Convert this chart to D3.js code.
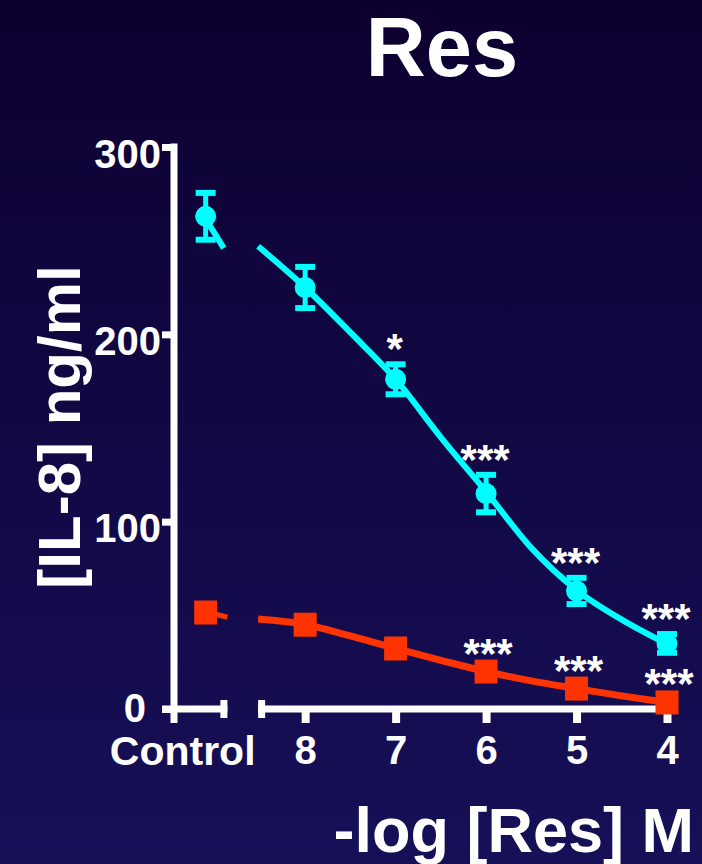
<!DOCTYPE html>
<html>
<head>
<meta charset="utf-8">
<script src="https://cdn.jsdelivr.net/npm/d3@7"></script>
<style>
  html, body { margin: 0; padding: 0; background: #0d0030; }
  svg { display: block; }
  text { font-family: "Liberation Sans", Arial, sans-serif; font-weight: bold; fill: #fff; }
</style>
</head>
<body>
<svg id="chart"></svg>
<script>
// -log[Res] M; control sits left of the axis break
const controlX = 9.1
const doses = [8, 7, 6, 5, 4]
const xTickLabels = ['8', '7', '6', '5', '4']
const yTicks = [0, 100, 200, 300]

// cyan series (circles): control + doses
const cyanMean = [263, 225, 176, 115, 63, 35]
const cyanErr = [12.5, 11, 8, 10, 7, 5]
const cyanStars = ['', '', '*', '***', '***', '***']

// red series (squares)
const redMean = [51.5, 45, 32.3, 20, 10.9, 3.5]
const redErr = [2, 2, 2, 2, 1.5, 1]
const redStars = ['', '', '', '***', '***', '***']

// fitted curves
const cyanFitX = [8.52, 8, 7.5, 7, 6.5, 6, 5.5, 5, 4.5, 4]
const cyanFitY = [247, 225, 201, 176, 145, 116, 86, 63.5, 47.7, 34.7]
const redFitX = [8.52, 8, 7.5, 7, 6.5, 6, 5.5, 5, 4.5, 4]
const redFitY = [48, 45.1, 39, 32.3, 26, 20, 15, 10.9, 7, 3.5]
// short pieces of the fit left of the break
const cyanStubX = [9.08, 8.9]
const cyanStubY = [260, 246]
const redStubX = [9.02, 8.86]
const redStubY = [51, 49]

const width = 702
const height = 864
const cyan = '#00ffff'
const red = '#ff3300'

const svg = d3.select('#chart').attr('width', width).attr('height', height)

const defs = svg.append('defs')
const grad = defs.append('linearGradient').attr('id', 'bg')
  .attr('x1', 0).attr('y1', 0).attr('x2', 0).attr('y2', 1)
grad.append('stop').attr('offset', '0%').attr('stop-color', '#0d0030')
grad.append('stop').attr('offset', '100%').attr('stop-color', '#161058')
svg.append('rect').attr('width', width).attr('height', height).attr('fill', 'url(#bg)')

const x = d3.scaleLinear().domain([9.45, 4]).range([174, 667])
const y = d3.scaleLinear().domain([0, 300]).range([709, 147])

const breakLeft = 8.86
const breakRight = 8.52

// title
svg.append('text').attr('x', 442).attr('y', 76).attr('text-anchor', 'middle')
  .attr('font-size', 83).text('Res')

// y axis
const yAxis = d3.axisLeft(y).tickValues(yTicks).tickSize(12).tickSizeOuter(0)
const gy = svg.append('g').attr('transform', 'translate(' + x(9.45) + ',0)').call(yAxis)
gy.select('.domain').remove()
gy.selectAll('.tick line').attr('stroke', '#fff').attr('stroke-width', 7)
gy.selectAll('.tick text').attr('font-size', 40).attr('fill', '#fff')
  .attr('x', -13).attr('dy', '0.5em')
  .style('font-family', '"Liberation Sans", Arial, sans-serif').style('font-weight', 'bold')
gy.selectAll('.tick text').filter(d => d === 0).attr('x', -28).attr('dy', '0.3em')
svg.append('line').attr('x1', x(9.45)).attr('x2', x(9.45))
  .attr('y1', y(300) - 3.5).attr('y2', 723)
  .attr('stroke', '#fff').attr('stroke-width', 7)

// y title
svg.append('text').attr('transform', 'translate(80,427) rotate(-90)')
  .attr('text-anchor', 'middle').attr('font-size', 60).text('[IL-8] ng/ml')

// broken x axis
const axisY = y(0)
const ax = svg.append('g').attr('stroke', '#fff').attr('stroke-width', 7)
ax.append('line').attr('x1', x(9.45) - 12).attr('x2', x(breakLeft)).attr('y1', axisY).attr('y2', axisY)
ax.append('line').attr('x1', x(breakRight)).attr('x2', x(4)).attr('y1', axisY).attr('y2', axisY)
;[breakLeft, breakRight].forEach(v => {
  const xx = v === breakLeft ? x(v) - 3.5 : x(v) + 3.5
  ax.append('line').attr('x1', xx).attr('x2', xx).attr('y1', axisY - 9).attr('y2', axisY + 9)
})
const xAxis = d3.axisBottom(x).tickValues(doses).tickSize(14).tickSizeOuter(0)
  .tickFormat((d, i) => xTickLabels[i])
const gx = svg.append('g').attr('transform', 'translate(0,' + axisY + ')').call(xAxis)
gx.select('.domain').remove()
gx.selectAll('.tick line').attr('stroke', '#fff').attr('stroke-width', 8)
gx.selectAll('.tick text').attr('font-size', 40).attr('fill', '#fff').attr('y', 55).attr('dy', 0)
  .style('font-family', '"Liberation Sans", Arial, sans-serif').style('font-weight', 'bold')
svg.append('text').attr('x', x(controlX) - 23).attr('y', 765).attr('text-anchor', 'middle')
  .attr('font-size', 41).text('Control')

// x title
svg.append('text').attr('x', 694).attr('y', 852).attr('text-anchor', 'end')
  .attr('font-size', 63).text('-log [Res] M')

// fit curves
const line = d3.line().x(d => x(d[0])).y(d => y(d[1])).curve(d3.curveMonotoneX)
const curves = svg.append('g').attr('fill', 'none')
curves.append('path').datum(d3.zip(redFitX, redFitY)).attr('d', line)
  .attr('stroke', red).attr('stroke-width', 7)
curves.append('path').datum(d3.zip(redStubX, redStubY)).attr('d', line)
  .attr('stroke', red).attr('stroke-width', 5)
curves.append('path').datum(d3.zip(cyanFitX, cyanFitY)).attr('d', line)
  .attr('stroke', cyan).attr('stroke-width', 6)
curves.append('path').datum(d3.zip(cyanStubX, cyanStubY)).attr('d', line)
  .attr('stroke', cyan).attr('stroke-width', 6)

const xs = [controlX].concat(doses)

// red error bars + squares
const redG = svg.append('g')
xs.forEach((v, i) => {
  const cx = x(v), lo = y(redMean[i] - redErr[i]), hi = y(redMean[i] + redErr[i])
  redG.append('line').attr('x1', cx).attr('x2', cx).attr('y1', lo).attr('y2', hi)
    .attr('stroke', red).attr('stroke-width', 4)
})
redG.selectAll('rect').data(redMean).join('rect')
  .attr('x', (d, i) => x(xs[i]) - 11.5).attr('y', d => y(d) - 12)
  .attr('width', 23).attr('height', 24).attr('fill', red)

// cyan error bars + circles
const cyanG = svg.append('g')
xs.forEach((v, i) => {
  const cx = x(v), lo = y(cyanMean[i] - cyanErr[i]), hi = y(cyanMean[i] + cyanErr[i])
  cyanG.append('line').attr('x1', cx).attr('x2', cx).attr('y1', lo).attr('y2', hi)
    .attr('stroke', cyan).attr('stroke-width', 5)
  ;[lo, hi].forEach(yy => {
    cyanG.append('line').attr('x1', cx - 10).attr('x2', cx + 10).attr('y1', yy).attr('y2', yy)
      .attr('stroke', cyan).attr('stroke-width', 6)
  })
})
cyanG.selectAll('circle').data(cyanMean).join('circle')
  .attr('cx', (d, i) => x(xs[i])).attr('cy', d => y(d)).attr('r', 10.5).attr('fill', cyan)

// significance stars
svg.append('g').selectAll('text').data(cyanStars).join('text')
  .attr('x', (d, i) => x(xs[i]) - 1)
  .attr('y', (d, i) => y(cyanMean[i] + cyanErr[i]) - 1)
  .attr('text-anchor', 'middle').attr('font-size', 42).text(d => d)
svg.append('g').selectAll('text').data(redStars).join('text')
  .attr('x', (d, i) => x(xs[i]) + 2)
  .attr('y', (d, i) => y(redMean[i]) - 4)
  .attr('text-anchor', 'middle').attr('font-size', 42).text(d => d)
</script>
</body>
</html>
